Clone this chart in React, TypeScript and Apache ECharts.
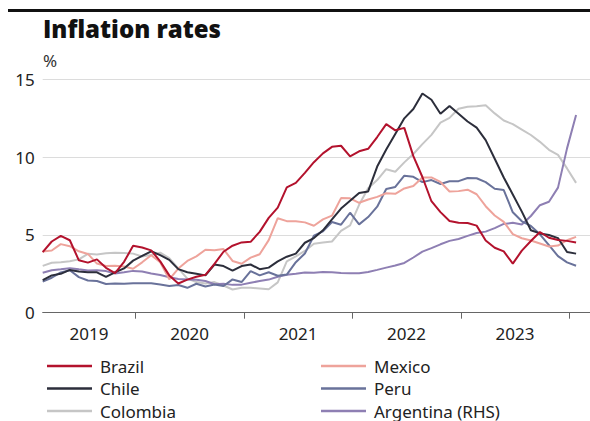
import { useEffect, useRef } from "react";
import * as echarts from "echarts";

// Monthly data, Feb 2019 – Jan 2024 (year-on-year %)
const START_YEAR = 2019;
const START_MONTH = 2; // February
const years = ["2019", "2020", "2021", "2022", "2023"];

const brazil = [
  3.89, 4.58, 4.94, 4.66, 3.37, 3.22, 3.43, 2.89, 2.54, 3.27, 4.31,
  4.19, 4.01, 3.3, 2.4, 1.88, 2.13, 2.31, 2.44, 3.14, 3.92, 4.31, 4.52,
  4.56, 5.2, 6.1, 6.76, 8.06, 8.35, 8.99, 9.68, 10.25, 10.67, 10.74, 10.06,
  10.38, 10.54, 11.3, 12.13, 11.73, 11.89, 10.07, 8.73, 7.17, 6.47, 5.9, 5.79,
  5.77, 5.6, 4.65, 4.18, 3.94, 3.16, 3.99, 4.61, 5.19, 4.82, 4.68, 4.62,
  4.51,
];
const mexico = [
  3.94, 4.0, 4.41, 4.28, 3.95, 3.78, 3.16, 3.0, 3.02, 2.97, 2.83,
  3.24, 3.7, 3.25, 2.15, 2.84, 3.33, 3.62, 4.05, 4.01, 4.09, 3.33, 3.15,
  3.54, 3.76, 4.67, 6.08, 5.89, 5.88, 5.81, 5.59, 6.0, 6.24, 7.37, 7.36,
  7.07, 7.28, 7.45, 7.68, 7.65, 7.99, 8.15, 8.7, 8.7, 8.41, 7.8, 7.82,
  7.91, 7.62, 6.85, 6.25, 5.84, 5.06, 4.79, 4.64, 4.45, 4.26, 4.32, 4.66,
  4.88,
];
const chile = [
  2.1, 2.4, 2.5, 2.75, 2.65, 2.6, 2.6, 2.3, 2.6, 2.85, 3.35,
  3.65, 3.95, 3.7, 3.4, 2.8, 2.6, 2.5, 2.4, 3.1, 3.0, 2.7, 3.0,
  3.1, 2.8, 2.9, 3.3, 3.6, 3.8, 4.5, 4.8, 5.3, 6.0, 6.7, 7.2,
  7.7, 7.8, 9.4, 10.5, 11.5, 12.5, 13.1, 14.1, 13.7, 12.8, 13.3, 12.8,
  12.3, 11.9, 11.1, 9.9, 8.7, 7.6, 6.5, 5.3, 5.1, 5.0, 4.8, 3.9,
  3.8,
];
const peru = [
  2.0, 2.25, 2.59, 2.73, 2.29, 2.07, 2.04, 1.85, 1.88, 1.87, 1.9,
  1.9, 1.89, 1.82, 1.72, 1.78, 1.6, 1.86, 1.69, 1.82, 1.72, 2.14, 1.97,
  2.68, 2.4, 2.6, 2.38, 2.45, 3.25, 3.81, 4.95, 5.23, 5.83, 5.66, 6.43,
  5.68, 6.15, 6.82, 7.96, 8.09, 8.81, 8.74, 8.4, 8.53, 8.28, 8.45, 8.46,
  8.66, 8.65, 8.4, 7.97, 7.89, 6.46, 5.88, 5.58, 5.04, 4.34, 3.64, 3.24,
  3.02,
];
const colombia = [
  3.01, 3.21, 3.25, 3.31, 3.43, 3.79, 3.75, 3.82, 3.86, 3.84, 3.8,
  3.62, 3.72, 3.86, 3.51, 2.85, 2.19, 1.97, 1.88, 1.97, 1.75, 1.49, 1.61,
  1.6, 1.56, 1.51, 1.95, 3.3, 3.63, 3.97, 4.44, 4.51, 4.58, 5.26, 5.62,
  6.94, 8.01, 8.53, 9.23, 9.07, 9.67, 10.21, 10.84, 11.44, 12.22, 12.53, 13.12,
  13.25, 13.28, 13.34, 12.82, 12.36, 12.13, 11.78, 11.43, 10.99, 10.48, 10.15, 9.28,
  8.35,
];
// Argentina on the right-hand scale (0–300)
const argentina = [
  51.3, 54.7, 55.8, 57.3, 55.8, 54.4, 54.5, 53.5, 50.5, 52.1, 53.8,
  52.9, 50.3, 48.4, 45.6, 43.4, 42.8, 42.4, 40.7, 36.6, 37.2, 35.8, 36.1,
  38.5, 40.7, 42.6, 46.3, 48.8, 50.2, 51.8, 51.4, 52.5, 52.1, 51.2, 50.9,
  50.7, 52.3, 55.1, 58.0, 60.7, 64.0, 71.0, 78.5, 83.0, 88.0, 92.4, 94.8,
  98.8, 102.5, 104.3, 108.8, 114.2, 115.6, 113.4, 124.4, 138.3, 142.7, 160.9, 211.4,
  254.2,
];

const FONT = "'Noto Sans', sans-serif";

// months since 1 Jan 2019; points drawn late in their month
const monthPos = (i: number) => START_MONTH - 1 + i + 0.75;
const X_MIN = monthPos(0);
const X_MAX = 62.29;

const toPairs = (arr: number[]) => arr.map((v, i) => [monthPos(i), v]);

export default function App() {
  const ref = useRef<HTMLDivElement>(null);
  useEffect(() => {
    if (!ref.current) return;
    const chart = echarts.init(ref.current, undefined, { renderer: "svg" });
    const yearTickVals = years.map((_, k) => (k + 1) * 12);
    const yearLabelVals = years.map((_, k) =>
      k === 0 ? (X_MIN + 12) / 2 : k * 12 + 6
    );
    const mk = (name: string, data: number[], color: string, yAxisIndex = 0) => ({
      name,
      type: "line",
      data: toPairs(data),
      yAxisIndex,
      symbol: "none",
      lineStyle: { color, width: 2 },
      itemStyle: { color },
      emphasis: { disabled: true },
    });
    const legendCommon = {
      orient: "vertical",
      icon: "rect",
      padding: 0,
      itemWidth: 45,
      itemHeight: 2.5,
      itemGap: 2.5,
      height: 80,
      textStyle: {
        fontFamily: FONT,
        fontSize: 17,
        color: "#222",
        lineHeight: 20,
        padding: [0, 0, 0, 3],
      },
      selectedMode: false,
    };
    chart.setOption({
      animation: false,
      grid: { left: 42.7, right: 0, top: 79.5, bottom: 108.3, containLabel: false },
      xAxis: {
        type: "value",
        min: X_MIN,
        max: X_MAX,
        axisLine: { show: true, lineStyle: { color: "#666", width: 1 } },
        axisTick: {
          show: true,
          length: 6,
          lineStyle: { color: "#666" },
          customValues: yearTickVals,
        },
        axisLabel: {
          customValues: yearLabelVals,
          formatter: (v: number) => String(START_YEAR + Math.floor(v / 12)),
          fontFamily: FONT,
          fontSize: 17,
          color: "#222",
          margin: 12,
        },
        splitLine: { show: false },
      },
      yAxis: [
        {
          type: "value",
          min: 0,
          max: 15,
          interval: 5,
          axisLine: { show: false },
          axisTick: { show: false },
          axisLabel: { fontFamily: FONT, fontSize: 17, color: "#222", margin: 8 },
          splitLine: { lineStyle: { color: "#dcdcdc", width: 1 } },
        },
        {
          type: "value",
          min: 0,
          max: 300,
          show: false,
          splitLine: { show: false },
        },
      ],
      legend: [
        { ...legendCommon, left: 47, top: 356, data: ["Brazil", "Chile", "Colombia"] },
        { ...legendCommon, left: 321, top: 356, data: ["Mexico", "Peru", "Argentina (RHS)"] },
      ],
      graphic: [
        { type: "rect", shape: { x: 8, y: 9, width: 582, height: 3 }, style: { fill: "#111" } },
        {
          type: "text",
          x: 43,
          y: 28,
          style: {
            text: "Inflation rates",
            font: "800 24px 'Open Sans', sans-serif",
            fill: "#111",
            verticalAlign: "middle",
          },
        },
        {
          type: "text",
          x: 43,
          y: 60,
          style: {
            text: "%",
            font: "17px 'Noto Sans', sans-serif",
            fill: "#333",
            verticalAlign: "middle",
          },
        },
      ],
      series: [
        mk("Colombia", colombia, "#c6c6c6"),
        mk("Argentina (RHS)", argentina, "#8e7fb3", 1),
        mk("Peru", peru, "#69729a"),
        mk("Mexico", mexico, "#eea39b"),
        mk("Chile", chile, "#2c2e3b"),
        mk("Brazil", brazil, "#b3122d"),
      ],
    });
    return () => chart.dispose();
  }, []);
  return (
    <div
      ref={ref}
      style={{ position: "fixed", left: 0, top: 0, width: 590, height: 421, background: "#fff" }}
    />
  );
}
